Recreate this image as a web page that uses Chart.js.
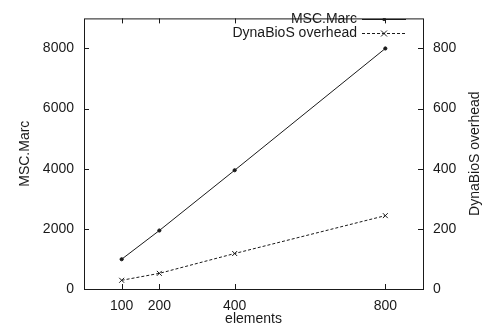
<!DOCTYPE html>
<html>
<head>
<meta charset="utf-8">
<script src="https://cdn.jsdelivr.net/npm/chart.js@4.4.1/dist/chart.umd.min.js"></script>
<style>
  html, body { margin: 0; padding: 0; background: #fff; }
  #wrap { width: 487px; height: 329px; }
</style>
</head>
<body>
<div id="wrap"><canvas id="chart"></canvas></div>
<script>
// Data
const elements = [100, 200, 400, 800];
const mscMarc = [990, 1945, 3950, 8000];
const dynaOverhead = [29, 52, 118, 244];
const xTicks = [100, 200, 400, 800];
const leftTicks = [0, 2000, 4000, 6000, 8000];
const rightTicks = [0, 200, 400, 600, 800];

const fontFamily = "'Liberation Sans', Arial, sans-serif";
const ink = '#1a1a1a';

// gnuplot-like frame with inward ticks, inside legend, right axis title
const framePlugin = {
    id: 'frame',
    afterDraw(chart) {
        const ctx = chart.ctx;
        const a = chart.chartArea;
        const x = chart.scales.x, y = chart.scales.y, y2 = chart.scales.y2;
        ctx.save();
        ctx.strokeStyle = ink;
        ctx.lineWidth = 1;
        ctx.strokeRect(a.left + 0.5, a.top + 0.5, a.right - a.left, a.bottom - a.top);
        const tl = 5;
        ctx.beginPath();
        x.ticks.forEach(t => {
            const px = Math.round(x.getPixelForValue(t.value)) + 0.5;
            ctx.moveTo(px, a.bottom); ctx.lineTo(px, a.bottom - tl);
            ctx.moveTo(px, a.top); ctx.lineTo(px, a.top + tl);
        });
        y.ticks.forEach(t => {
            const py = Math.round(y.getPixelForValue(t.value)) + 0.5;
            ctx.moveTo(a.left, py); ctx.lineTo(a.left + tl, py);
        });
        y2.ticks.forEach(t => {
            const py = Math.round(y2.getPixelForValue(t.value)) + 0.5;
            ctx.moveTo(a.right, py); ctx.lineTo(a.right - tl, py);
        });
        ctx.stroke();

        ctx.font = '14px ' + fontFamily;
        ctx.fillStyle = ink;

        // right axis title, reading bottom to top
        ctx.save();
        ctx.translate(475, (a.top + a.bottom) / 2);
        ctx.rotate(-Math.PI / 2);
        ctx.textAlign = 'center';
        ctx.textBaseline = 'middle';
        ctx.fillText('DynaBioS overhead', 0, 0);
        ctx.restore();

        // legend
        ctx.textAlign = 'right';
        ctx.textBaseline = 'middle';
        const rows = [
            { label: 'MSC.Marc', dash: [], ds: 0, y: 19 },
            { label: 'DynaBioS overhead', dash: [3, 2], ds: 1, y: 33 }
        ];
        rows.forEach(r => {
            ctx.fillText(r.label, 357, r.y);
            ctx.setLineDash(r.dash);
            ctx.beginPath();
            ctx.moveTo(362, r.y + 0.5); ctx.lineTo(406, r.y + 0.5);
            ctx.stroke();
            ctx.setLineDash([]);
            if (r.ds === 0) {
                ctx.beginPath(); ctx.arc(384, r.y + 0.5, 1.6, 0, Math.PI * 2); ctx.fill();
            } else {
                ctx.beginPath();
                ctx.moveTo(381, r.y - 2.5); ctx.lineTo(387, r.y + 3.5);
                ctx.moveTo(387, r.y - 2.5); ctx.lineTo(381, r.y + 3.5);
                ctx.stroke();
            }
        });
        ctx.restore();
    }
};

const tickFont = { size: 14, family: fontFamily };

new Chart(document.getElementById('chart'), {
    type: 'line',
    data: {
        datasets: [
            {
                label: 'MSC.Marc',
                data: elements.map((e, i) => ({ x: e, y: mscMarc[i] })),
                yAxisID: 'y',
                borderColor: ink,
                borderWidth: 1,
                pointStyle: 'circle',
                pointRadius: 1.6,
                pointBackgroundColor: ink,
                pointBorderColor: ink,
                tension: 0
            },
            {
                label: 'DynaBioS overhead',
                data: elements.map((e, i) => ({ x: e, y: dynaOverhead[i] })),
                yAxisID: 'y2',
                borderColor: ink,
                borderWidth: 1,
                borderDash: [3, 2],
                pointStyle: 'crossRot',
                pointRadius: 3.5,
                pointBorderWidth: 1,
                pointBorderColor: ink,
                tension: 0
            }
        ]
    },
    plugins: [framePlugin],
    options: {
        responsive: true,
        maintainAspectRatio: false,
        animation: false,
        layout: { padding: { top: 7, left: 0, right: 0, bottom: 0 } },
        plugins: {
            legend: { display: false },
            tooltip: { enabled: false }
        },
        scales: {
            x: {
                type: 'linear',
                min: 0,
                max: 900,
                afterBuildTicks: s => { s.ticks = xTicks.map(v => ({ value: v })); },
                afterFit: s => { s.height = 40; },
                grid: { display: false, drawTicks: false },
                border: { display: false },
                ticks: { color: ink, padding: 9, font: tickFont, maxRotation: 0, callback: v => String(v) },
                title: { display: true, text: 'elements', color: ink, padding: { top: 0, bottom: 1 }, font: tickFont }
            },
            y: {
                position: 'left',
                min: 0,
                max: 9000,
                afterBuildTicks: s => { s.ticks = leftTicks.map(v => ({ value: v })); },
                afterFit: s => { s.width = 84; },
                grid: { display: false, drawTicks: false },
                border: { display: false },
                ticks: { color: ink, padding: 10, font: tickFont, callback: v => String(v) },
                title: { display: true, text: 'MSC.Marc', color: ink, padding: { top: 17, bottom: 0 }, font: tickFont }
            },
            y2: {
                position: 'right',
                min: 0,
                max: 900,
                afterBuildTicks: s => { s.ticks = rightTicks.map(v => ({ value: v })); },
                afterFit: s => { s.width = 64; },
                grid: { display: false, drawTicks: false },
                border: { display: false },
                ticks: { color: ink, padding: 10, font: tickFont, callback: v => String(v) },
                title: { display: false }
            }
        }
    }
});
</script>
</body>
</html>
